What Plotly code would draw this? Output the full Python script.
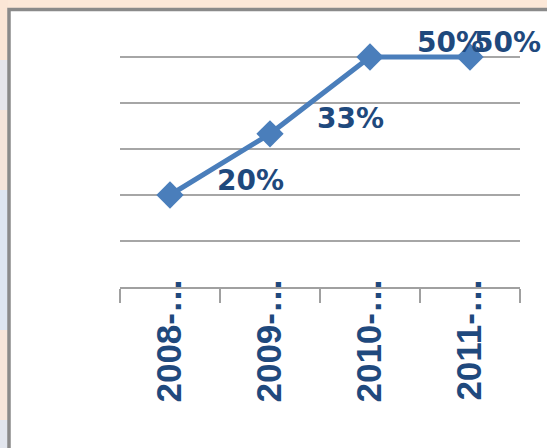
import plotly.graph_objects as go

categories = ["2008-…", "2009-…", "2010-…", "2011-…"]
values = [0.20, 0.333, 0.50, 0.50]
value_labels = ["20%", "33%", "50%", "50%"]
label_xshift = [80, 80, 80, 37]

W, H = 547, 448
L, R, T, B = 120, 27, 11, 161
pw, ph = W - L - R, H - T - B

def px_x(p):
    return (p - L) / pw

def px_y(p):
    return (H - B - p) / ph

label_color = "#1F497D"
line_color = "#4A7EBB"

fig = go.Figure()
fig.add_trace(go.Scatter(
    x=categories, y=values, mode="lines+markers",
    line=dict(color=line_color, width=5),
    marker=dict(symbol="diamond", size=21, color=line_color),
    hoverinfo="skip", showlegend=False,
))

for c, v, t, dx in zip(categories, values, value_labels, label_xshift):
    fig.add_annotation(x=c, y=v, text=t, showarrow=False, xshift=dx, yshift=15,
                       xanchor="center", yanchor="middle",
                       font=dict(family="DejaVu Sans", size=28, color=label_color, weight="bold"))

shapes = []
bands = [(0, 60, "#FBE6D6"), (60, 110, "#E6E6EC"), (110, 190, "#F5E4DA"),
         (190, 330, "#DDE5F0"), (330, 420, "#F6E5DA"), (420, 448, "#E2E6EE")]
for y0, y1, col in bands:
    shapes.append(dict(type="rect", xref="paper", yref="paper", layer="below",
                       x0=px_x(0), x1=px_x(8), y0=px_y(y1), y1=px_y(y0),
                       fillcolor=col, line=dict(width=0)))
shapes.append(dict(type="rect", xref="paper", yref="paper", layer="below",
                   x0=px_x(9), x1=px_x(560), y0=px_y(460), y1=px_y(9.5),
                   fillcolor="white", line=dict(color="#8A8A8A", width=3.5)))

fig.update_layout(
    width=W, height=H,
    margin=dict(l=L, r=R, t=T, b=B),
    paper_bgcolor="#FCE8D8",
    plot_bgcolor="white",
    shapes=shapes,
    showlegend=False,
)
fig.update_xaxes(
    type="category", range=[-0.5, 3.5],
    showgrid=False, showline=True, linecolor="#A0A0A0", linewidth=2,
    ticks="outside", ticklen=14, tickwidth=2, tickcolor="#A0A0A0",
    tickson="boundaries", tickangle=-90, ticklabelstandoff=-25,
    tickfont=dict(family="Liberation Sans Narrow, Liberation Sans", size=35,
                  color=label_color, weight="bold"),
)
fig.update_yaxes(
    range=[0, 0.6], dtick=0.1, showticklabels=False,
    showgrid=True, gridcolor="#A6A6A6", gridwidth=1.5,
    zeroline=False, showline=False, ticks="",
)

fig.write_html("out.html", config={"displayModeBar": False},
               post_script="document.body.style.margin='0';")
